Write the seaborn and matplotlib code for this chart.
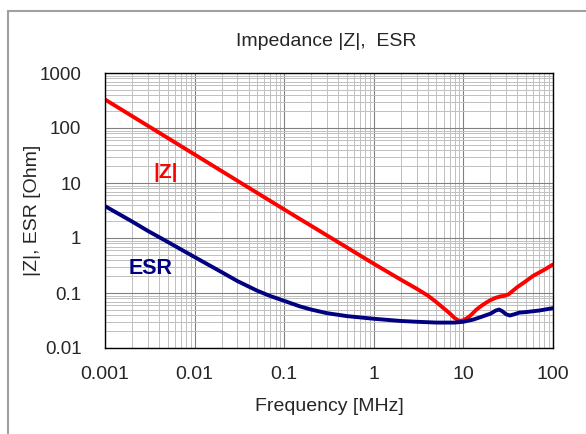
import numpy as np
import pandas as pd
import seaborn as sns
import matplotlib.pyplot as plt
from matplotlib.lines import Line2D
from matplotlib.ticker import LogLocator, NullFormatter

# |Z| curve
z_freq = [0.001, 0.01, 0.1, 1, 2, 3, 4, 5, 6, 7, 8, 9, 10, 11, 12, 14, 16, 18,
          20, 23, 26, 29, 32, 40, 50, 60, 80, 100]
z_ohm = [330, 33, 3.3, 0.34, 0.175, 0.12, 0.09, 0.068, 0.053, 0.043, 0.035, 0.031,
         0.032, 0.035, 0.039, 0.05, 0.059, 0.067, 0.074, 0.082, 0.087, 0.089,
         0.095, 0.128, 0.165, 0.205, 0.265, 0.33]

# ESR curve
esr_freq = [0.001, 0.002, 0.003, 0.005, 0.01, 0.02, 0.03, 0.05, 0.07, 0.1, 0.15,
            0.2, 0.3, 0.5, 1, 2, 3, 5, 8, 10, 13, 16, 20, 23, 25, 27, 30, 33, 37,
            42, 50, 70, 100]
esr_ohm = [3.8, 2.0, 1.35, 0.85, 0.45, 0.24, 0.165, 0.11, 0.088, 0.072, 0.057,
           0.05, 0.043, 0.038, 0.034, 0.031, 0.030, 0.029, 0.029, 0.030, 0.033,
           0.037, 0.042, 0.048, 0.050, 0.047, 0.041, 0.039, 0.041, 0.044, 0.045,
           0.048, 0.053]

x_ticks = [0.001, 0.01, 0.1, 1, 10, 100]
x_labels = ["0.001", "0.01", "0.1", "1", "10", "100"]
y_ticks = [0.01, 0.1, 1, 10, 100, 1000]
y_labels = ["0.01", "0.1", "1", "10", "100", "1000"]

sns.set_style("white")
plt.rcParams['font.family'] = ['Liberation Sans', 'DejaVu Sans']

fig = plt.figure(figsize=(5.86, 4.34), dpi=100)
ax = fig.add_axes([105 / 586, 1 - 348 / 434, 448 / 586, 275 / 434])

ax.set_xscale('log')
ax.set_yscale('log')

sns.lineplot(x=z_freq, y=z_ohm, ax=ax, color='#ff0000', linewidth=2.8, sort=True)
sns.lineplot(x=esr_freq, y=esr_ohm, ax=ax, color='#000080', linewidth=2.8, sort=True)

ax.set_xlim(0.001, 100)
ax.set_ylim(0.01, 1000)

ax.xaxis.set_minor_locator(LogLocator(base=10, subs=np.arange(2, 10)))
ax.yaxis.set_minor_locator(LogLocator(base=10, subs=np.arange(2, 10)))
ax.xaxis.set_minor_formatter(NullFormatter())
ax.yaxis.set_minor_formatter(NullFormatter())
ax.set_xticks(x_ticks)
ax.set_xticklabels(x_labels)
ax.set_yticks(y_ticks)
ax.set_yticklabels(y_labels)

ax.grid(which='major', color='#808080', linewidth=0.8)
ax.grid(which='minor', color='#c0c0c0', linewidth=0.7)
ax.set_axisbelow(True)
ax.tick_params(which='both', length=0)
ax.tick_params(axis='x', pad=13, labelsize=14)
ax.tick_params(axis='y', pad=17, labelsize=13.5)

for s in ax.spines.values():
    s.set_color('black')
    s.set_linewidth(1.0)

ax.set_xlabel("Frequency [MHz]", fontsize=14, labelpad=11)
ax.set_ylabel("|Z|, ESR [Ohm]", fontsize=14)
ax.yaxis.set_label_coords(-0.142, 0.5)
fig.text(326 / 586, 1 - 41 / 434, "Impedance |Z|,  ESR",
         fontsize=14, ha='center', va='center')

ax.text(0.0048, 15.5, "|Z|", color='#ff0000', fontsize=15, fontweight='bold',
        ha='center', va='center')
ax.text(0.0032, 0.28, "ESR", color='#000080', fontsize=15.5, fontweight='bold',
        ha='center', va='center')

# outer frame (only left and top are visible)
fig.add_artist(Line2D([8 / 586, 8 / 586], [0, 1 - 11 / 434], color='#a0a0a0', lw=1.5))
fig.add_artist(Line2D([8 / 586, 1], [1 - 11 / 434, 1 - 11 / 434], color='#a0a0a0', lw=1.5))

fig.savefig('out.png', dpi=100)
